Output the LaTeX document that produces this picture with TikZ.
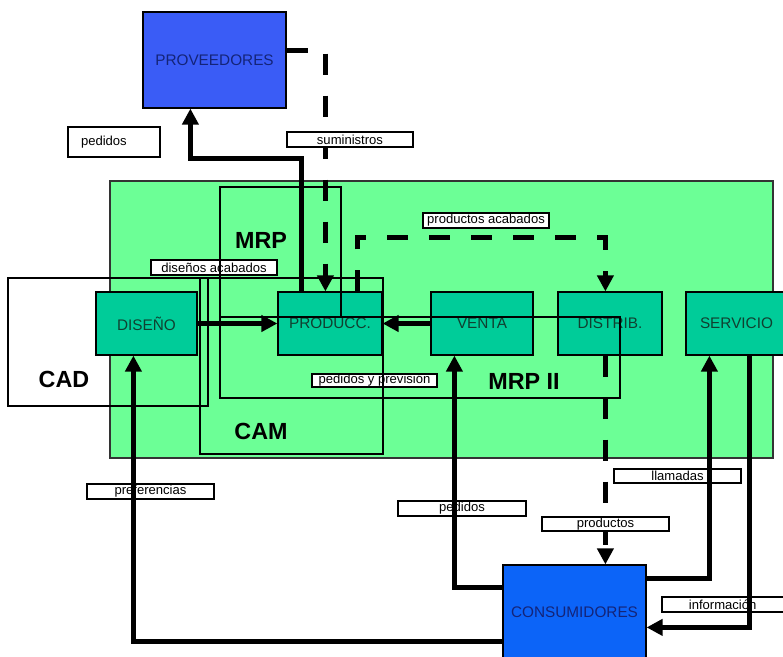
\documentclass[tikz,border=0pt]{standalone}
\usepackage{fontspec}
\setmainfont{Liberation Sans}
\usetikzlibrary{arrows.meta,calc}
\definecolor{cGreen}{RGB}{108,255,150}
\definecolor{cTeal}{RGB}{0,204,153}
\definecolor{cProv}{RGB}{58,92,246}
\definecolor{cCons}{RGB}{12,100,248}
\definecolor{cNavy}{RGB}{20,36,120}
\definecolor{cTealText}{RGB}{16,64,48}
\begin{document}
\begin{tikzpicture}[x=0.75pt,y=-0.75pt,
  bx/.style n args={4}{minimum width={(#3-#1)*0.75pt}, minimum height={(#4-#2)*0.75pt}, at={({(#1+#3)/2},{(#2+#4)/2})}, anchor=center},
  box/.style={draw=black, line width=0.9pt, inner sep=0pt, font=\fontsize{11.5}{13}\selectfont},
  bluebox/.style={box, text=cNavy},
  tbox/.style={box, fill=cTeal, text=cTealText},
  lab/.style={draw=black, fill=white, line width=0.8pt, inner sep=0pt, font=\fontsize{9.8}{11}\selectfont},
  region/.style={draw=black, line width=0.9pt},
  flow/.style={line width=3.75pt, -{Triangle[width=12pt,length=12pt]}},
  dflow/.style={flow, dash pattern=on 15.75pt off 15.75pt},
  big/.style={font=\fontsize{17.5}{20}\selectfont\bfseries, inner sep=0pt}
]
\clip (0,0) rectangle (783,657);
\fill[white] (0,0) rectangle (783,657);
% green system area
\draw[fill=cGreen, draw=black!80, line width=0.8pt] (110,181) rectangle (773,458);
% boxes
\node[bluebox, fill=cProv, bx={143}{12}{286}{108}] (prov) {PROVEEDORES};
\node[tbox, bx={96}{292}{197}{355}] (dis) {DISEÑO};
\node[tbox, bx={278}{292}{382}{355}] (prod) {PRODUCC.};
\node[tbox, bx={431}{292}{533}{355}] (venta) {VENTA};
\node[tbox, bx={558}{292}{662}{355}] (dist) {DISTRIB.};
\node[tbox, bx={686}{292}{787}{355}] (serv) {SERVICIO};
\node[bluebox, fill=cCons, bx={503}{565}{646}{659}] (cons) {CONSUMIDORES};
% labels under lines
\node[lab, bx={68}{127}{160}{157}, text width=49.5pt, align=left] (lpedsup) {pedidos};
\node[lab, bx={423}{213}{549}{228}] (lprodacab) {productos acabados};
\node[lab, bx={151}{260}{277}{275}] (ldisacab) {diseños acabados};
\node[lab, bx={312}{374}{437}{387}] (lpedprev) {pedidos y previsión};
\node[lab, bx={87}{484}{214}{499}] (lpref) {preferencias};
\node[lab, bx={398}{501}{526}{516}] (lpedcons) {pedidos};
\node[lab, bx={614}{469}{741}{483}] (lllam) {llamadas};
\node[lab, bx={662}{597}{790}{612}] (linfo) {\hspace*{-5pt}información};
% region outlines
\draw[region] (8,278) rectangle (208,406);
\draw[region] (200,278) rectangle (383,454);
\draw[region] (220,187) rectangle (341,317);
\draw[region] (220,317) rectangle (620,398);
% connectors
\draw[flow] ($(prod.north west)+(24,0)$) |- ($(prov.south west)+(48,50)$) -- ($(prov.south west)+(48,0)$);
\draw[dflow] ($(prov.north east)+(0,39)$) -| ($(prod.north west)+(48,0)$);
\draw[flow] (dis.east) -- (prod.west);
\draw[flow] (venta.west) -- (prod.east);
\draw[dflow] ($(prod.north west)+(80,0)$) |- ($(dist.north west)+(48,-54)$) -- ($(dist.north west)+(48,0)$);
\draw[flow] ($(cons.north west)+(0,77)$) -| ($(dis.south west)+(38,0)$);
\draw[flow] ($(cons.north west)+(0,23)$) -| ($(venta.south west)+(24,0)$);
\draw[dflow] ($(dist.south west)+(48,0)$) -- ($(cons.north west)+(103,0)$);
\draw[flow] ($(cons.north east)+(0,14)$) -| ($(serv.south west)+(24,0)$);
\draw[flow] ($(serv.south west)+(64,0)$) |- ($(cons.north east)+(0,63)$);
% labels over lines
\node[lab, bx={287}{132}{413}{147}] (lsum) {suministros};
\node[lab, bx={542}{517}{669}{531}] (lprods) {productos};
% region names
\node[big] (tmrp) at (261,240) {MRP};
\node[big] (tcad) at (64,379) {CAD};
\node[big] (tcam) at (261,431) {CAM};
\node[big] (tmrp2) at (524,381) {MRP II};
\end{tikzpicture}
\end{document}
